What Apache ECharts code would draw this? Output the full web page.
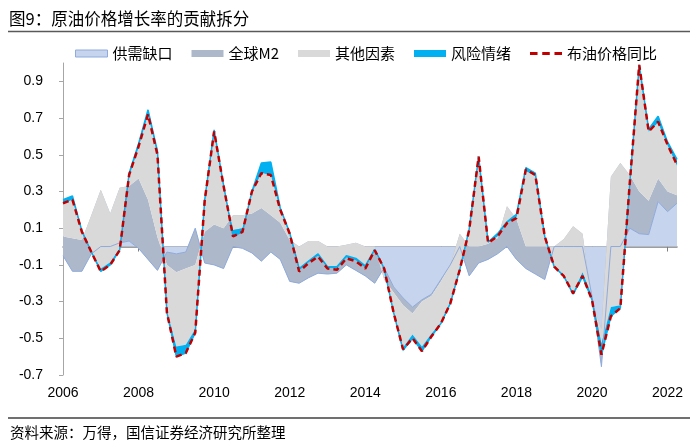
<!DOCTYPE html>
<html><head><meta charset="utf-8">
<script src="https://cdn.jsdelivr.net/npm/echarts@6/dist/echarts.min.js"></script>
<style>html,body{margin:0;padding:0;background:#fff}#c{width:700px;height:447px}</style>
</head><body><div id="c"></div>
<script>
const quarters = ['2006Q1','2006Q2','2006Q3','2006Q4','2007Q1','2007Q2','2007Q3','2007Q4','2008Q1','2008Q2','2008Q3','2008Q4','2009Q1','2009Q2','2009Q3','2009Q4','2010Q1','2010Q2','2010Q3','2010Q4','2011Q1','2011Q2','2011Q3','2011Q4','2012Q1','2012Q2','2012Q3','2012Q4','2013Q1','2013Q2','2013Q3','2013Q4','2014Q1','2014Q2','2014Q3','2014Q4','2015Q1','2015Q2','2015Q3','2015Q4','2016Q1','2016Q2','2016Q3','2016Q4','2017Q1','2017Q2','2017Q3','2017Q4','2018Q1','2018Q2','2018Q3','2018Q4','2019Q1','2019Q2','2019Q3','2019Q4','2020Q1','2020Q2','2020Q3','2020Q4','2021Q1','2021Q2','2021Q3','2021Q4','2022Q1','2022Q2'];

const supplyGap = [-0.05,-0.135,-0.135,-0.04,0,0,0.02,0.03,-0.01,-0.07,
 -0.13,-0.03,-0.04,-0.03,0.10,-0.09,-0.10,-0.12,0,-0.01,
 -0.035,-0.08,-0.03,-0.07,-0.19,-0.20,-0.17,-0.145,-0.15,-0.145,
 -0.10,-0.13,-0.16,-0.20,-0.115,-0.22,-0.28,-0.33,-0.29,-0.26,
 -0.18,-0.10,0,-0.16,-0.09,-0.07,-0.04,0,-0.07,-0.12,
 -0.15,-0.18,0,0,0,0,-0.27,-0.655,0,0,
 0.10,0.07,0.065,0.245,0.19,0.236];

const globalM2 = [0.105,0.18,0.17,0.21,0.31,0.18,0.30,0.30,0.38,0.325,
 0.18,-0.07,-0.10,-0.09,-0.20,0.17,0.22,0.22,0.17,0.18,
 0.215,0.29,0.20,0.20,0.226,0.20,0.20,0.175,0.15,0.145,
 0.11,0.15,0.16,0.20,-0.065,-0.03,-0.04,-0.035,-0.01,-0.01,
 -0.01,0,0.07,0.16,0.09,0.085,0.085,0.22,0.22,0.12,
 0.15,0.18,0,0.04,0.11,0.07,-0.03,0.205,0.38,0.455,
 0.29,0.23,0.185,0.125,0.11,0.044];

const otherFactors = [0.18,0.21,0.04,-0.195,-0.43,-0.265,-0.33,0.05,0.17,0.465,
 0.45,-0.25,-0.405,-0.415,-0.35,0.16,0.50,0.22,-0.08,-0.07,
 0.11,0.19,0.22,0.07,0.034,-0.13,-0.115,-0.08,-0.115,-0.12,
 -0.07,-0.095,-0.115,-0.02,0.065,-0.105,-0.23,-0.115,-0.245,-0.205,
 -0.225,-0.205,-0.19,0.09,0.48,0.005,0.01,-0.09,0.005,0.41,
 0.385,0.05,-0.105,-0.195,-0.36,-0.21,0.03,-0.08,-0.71,-0.775,
 -0.05,0.68,0.375,0.305,0.25,0.16];

const riskSentiment = [0.02,0.021,0.01,-0.005,-0.016,-0.015,-0.01,0.02,0.02,0.025,
 0.02,-0.01,-0.055,-0.045,-0.02,0.015,0.016,0.015,-0.035,-0.02,
 0.01,0.055,0.07,0.01,0.005,0.01,0.005,0.01,0.005,0.01,
 0.01,0.01,0.01,0.005,-0.005,-0.005,-0.015,-0.02,-0.025,-0.015,
 -0.005,-0.005,-0.007,0.005,0.01,0.005,0.015,0.005,0.02,0.02,
 0.015,0.005,-0.005,-0.005,-0.01,-0.025,-0.02,-0.06,-0.05,-0.016,
 0.005,0.01,0.015,0.035,0.02,0.035];

const brentYoY = [0.236,0.255,0.08,-0.03,-0.136,-0.10,-0.02,0.39,0.545,0.72,
 0.50,-0.36,-0.60,-0.58,-0.47,0.25,0.627,0.33,0.055,0.08,
 0.30,0.40,0.39,0.20,0.07,-0.136,-0.09,-0.055,-0.12,-0.127,
 -0.064,-0.08,-0.12,-0.02,-0.12,-0.36,-0.56,-0.50,-0.57,-0.49,
 -0.42,-0.31,-0.127,0.09,0.49,0.02,0.055,0.127,0.155,0.42,
 0.39,0.055,-0.11,-0.16,-0.255,-0.16,-0.29,-0.59,-0.38,-0.336,
 0.345,0.99,0.627,0.68,0.555,0.445];

const titleText = '图9：原油价格增长率的贡献拆分';
const sourceText = '资料来源：万得，国信证券经济研究所整理';
const seriesNames = ['供需缺口','全球M2','其他因素','风险情绪','布油价格同比'];

const CJK = '"Noto Sans CJK SC", "Noto Sans", sans-serif';
const NUM = '"Liberation Sans", Arial, sans-serif';

const C_SUPPLY = '#c6d4ee', C_SUPPLY_B = '#8faadc', C_M2 = '#adb9ca', C_OTHER = '#d9d9d9', C_RISK = '#00b0f0', C_BRENT = '#c00000';
const DASH_ICON = 'path://M0,0h0.01v7h-0.01z M0,2h8v3h-8z M13,2h8v3h-8z M26,2h8v3h-8z';

function areaSeries(name, data, color, line) {
  return {
    name: name, type: 'line', stack: 'total', stackStrategy: 'all',
    data: data, symbol: 'none', showSymbol: false, smooth: false,
    lineStyle: line || { width: 0, opacity: 0 },
    areaStyle: { color: color, opacity: 1 },
    itemStyle: { color: color },
    emphasis: { disabled: true }
  };
}

const chart = echarts.init(document.getElementById('c'), null, { renderer: 'canvas' });
chart.setOption({
  animation: false,
  backgroundColor: '#fff',
  textStyle: { fontFamily: CJK },
  legend: {
    left: 70, top: 41, itemWidth: 32, itemHeight: 7, itemGap: 19,
    textStyle: { fontSize: 15, color: '#000', fontFamily: CJK },
    data: [
      { name: seriesNames[0], icon: 'rect', itemStyle: { color: C_SUPPLY, borderColor: C_SUPPLY_B, borderWidth: 1 } },
      { name: seriesNames[1], icon: 'rect', itemStyle: { color: C_M2 } },
      { name: seriesNames[2], icon: 'rect', itemStyle: { color: C_OTHER } },
      { name: seriesNames[3], icon: 'rect', itemStyle: { color: C_RISK } },
      { name: seriesNames[4], icon: DASH_ICON, itemStyle: { color: C_BRENT } }
    ]
  },
  grid: { left: 63, right: 23, top: 63, bottom: 72 },
  xAxis: [
    {
      type: 'category', data: quarters, boundaryGap: false, position: 'top',
      axisLine: { onZero: true, lineStyle: { color: '#7f7f7f', width: 1.5 } },
      axisTick: { show: true, inside: true, interval: 7, length: 5, lineStyle: { color: '#7f7f7f' } },
      axisLabel: { show: false }, splitLine: { show: false }
    },
    {
      type: 'category', data: quarters, boundaryGap: false, position: 'bottom',
      axisLine: { show: false, onZero: false }, axisTick: { show: false },
      axisLabel: { interval: 7, formatter: v => v.slice(0, 4), fontSize: 14, color: '#000', fontFamily: NUM, margin: 11 },
      splitLine: { show: false }
    }
  ],
  yAxis: {
    type: 'value', min: -0.7, max: 1.0, interval: 0.2,
    axisLine: { show: true, lineStyle: { color: '#a6a6a6', width: 1 } },
    axisTick: { show: true, length: 4, lineStyle: { color: '#a6a6a6' } },
    splitLine: { show: false },
    axisLabel: { showMaxLabel: false, fontSize: 14, color: '#000', fontFamily: NUM, margin: 20, formatter: v => v.toFixed(1) }
  },
  series: [
    areaSeries(seriesNames[0], supplyGap, C_SUPPLY, { width: 1, color: C_SUPPLY_B }),
    areaSeries(seriesNames[1], globalM2, C_M2),
    areaSeries(seriesNames[2], otherFactors, C_OTHER),
    areaSeries(seriesNames[3], riskSentiment, C_RISK, { width: 1.5, color: C_RISK }),
    {
      name: seriesNames[4], type: 'line', data: brentYoY, symbol: 'none', showSymbol: false, z: 5,
      lineStyle: { color: C_BRENT, width: 2.5, type: [6, 4] },
      itemStyle: { color: C_BRENT }, emphasis: { disabled: true }
    }
  ],
  graphic: [
    { type: 'text', left: 9, top: 10, style: { text: titleText, font: '16.5px ' + CJK, fill: '#000' } },
    { type: 'line', shape: { x1: 8, y1: 31.5, x2: 690, y2: 31.5 }, style: { stroke: '#595959', lineWidth: 1.5 } },
    { type: 'line', shape: { x1: 8, y1: 418, x2: 690, y2: 418 }, style: { stroke: '#404040', lineWidth: 1.5 } },
    { type: 'text', left: 10, top: 425, style: { text: sourceText, font: '14.5px ' + CJK, fill: '#000' } }
  ]
});
</script></body></html>
